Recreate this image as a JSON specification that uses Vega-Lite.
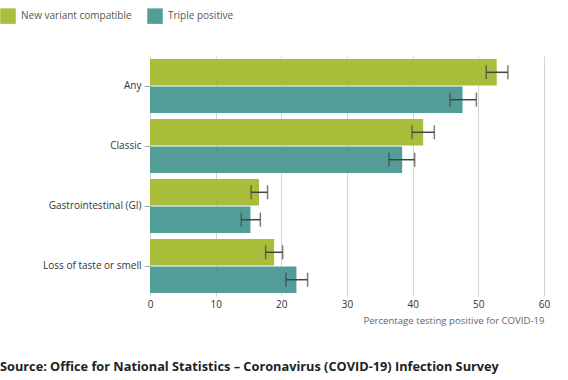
{
  "$schema": "https://vega.github.io/schema/vega-lite/v6.json",
  "width": 394,
  "height": 240,
  "autosize": "none",
  "padding": {"left": 150, "top": 56, "right": 24, "bottom": 84},
  "background": "white",
  "config": {
    "font": "Open Sans",
    "view": {"stroke": null}
  },
  "title": {
    "text": "Source: Office for National Statistics – Coronavirus (COVID-19) Infection Survey",
    "orient": "bottom",
    "anchor": "start",
    "frame": "group",
    "dx": -150,
    "offset": 36,
    "fontSize": 12.75,
    "fontWeight": "bold",
    "color": "#222222",
    "font": "Open Sans"
  },
  "data": {
    "values": [
      {"symptom": "Any", "series": "New variant compatible", "value": 52.8, "lo": 51.2, "hi": 54.5},
      {"symptom": "Any", "series": "Triple positive", "value": 47.6, "lo": 45.7, "hi": 49.7},
      {"symptom": "Classic", "series": "New variant compatible", "value": 41.6, "lo": 39.9, "hi": 43.3},
      {"symptom": "Classic", "series": "Triple positive", "value": 38.4, "lo": 36.4, "hi": 40.3},
      {"symptom": "Gastrointestinal (GI)", "series": "New variant compatible", "value": 16.6, "lo": 15.4, "hi": 17.9},
      {"symptom": "Gastrointestinal (GI)", "series": "Triple positive", "value": 15.3, "lo": 13.9, "hi": 16.8},
      {"symptom": "Loss of taste or smell", "series": "New variant compatible", "value": 18.9, "lo": 17.6, "hi": 20.2},
      {"symptom": "Loss of taste or smell", "series": "Triple positive", "value": 22.3, "lo": 20.7, "hi": 24.0}
    ]
  },
  "encoding": {
    "y": {
      "field": "symptom",
      "type": "nominal",
      "sort": null,
      "scale": {"paddingInner": 0.1, "paddingOuter": 0.05},
      "axis": {
        "title": null,
        "domain": false,
        "tickColor": "#aaaaaa",
        "tickSize": 6,
        "labelPadding": 3,
        "labelFontSize": 10,
        "labelColor": "#333333",
        "labelFont": "Open Sans"
      }
    },
    "yOffset": {
      "field": "series",
      "type": "nominal",
      "sort": null,
      "scale": {"paddingInner": 0.03}
    }
  },
  "layer": [
    {
      "mark": {"type": "bar"},
      "encoding": {
        "x": {
          "field": "value",
          "type": "quantitative",
          "scale": {"domain": [0, 60], "nice": false},
          "axis": {
            "values": [0, 10, 20, 30, 40, 50, 60],
            "title": "Percentage testing positive for COVID-19",
            "titleAnchor": "end",
            "titleFontWeight": "normal",
            "titleFontSize": 9.6,
            "titleColor": "#666666",
            "titlePadding": 6,
            "labelFontSize": 10,
            "labelColor": "#333333",
            "labelPadding": 3,
            "domain": false,
            "ticks": false,
            "gridColor": "#d4d4d4",
            "labelFlush": false
          }
        },
        "color": {
          "field": "series",
          "type": "nominal",
          "sort": null,
          "scale": {"range": ["#aabd3b", "#529d98"]},
          "legend": {
            "title": null,
            "orient": "none",
            "direction": "horizontal",
            "legendX": -150,
            "legendY": -48,
            "symbolType": "square",
            "symbolSize": 240,
            "symbolStrokeWidth": 0,
            "labelFontSize": 10,
            "labelColor": "#555555",
            "labelOffset": 5,
            "columnPadding": 15
          }
        }
      }
    },
    {
      "mark": {"type": "rule", "color": "#444444", "strokeWidth": 1.5},
      "encoding": {
        "x": {"field": "lo", "type": "quantitative"},
        "x2": {"field": "hi"}
      }
    },
    {
      "mark": {"type": "tick", "color": "#444444", "thickness": 1.5, "size": 14, "orient": "vertical"},
      "encoding": {
        "x": {"field": "lo", "type": "quantitative"}
      }
    },
    {
      "mark": {"type": "tick", "color": "#444444", "thickness": 1.5, "size": 14, "orient": "vertical"},
      "encoding": {
        "x": {"field": "hi", "type": "quantitative"}
      }
    }
  ]
}
